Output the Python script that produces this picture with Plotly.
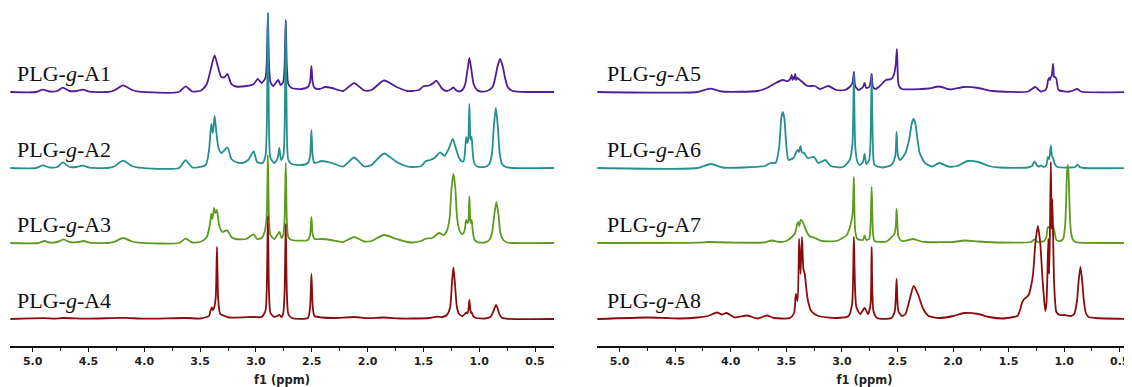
import plotly.graph_objects as go

# ---------------- data: (ppm, intensity) ----------------
A1 = [(5.20,0),(4.97,0),(4.91,2.3),(4.85,0.5),(4.78,1),(4.73,4.3),(4.67,1),(4.61,1),(4.55,2.3),(4.49,0.3),
      (4.33,0),(4.27,1.5),(4.19,6.6),(4.11,2),(4.05,0.3),(3.69,0),(3.63,5.6),(3.57,0.5),(3.49,1.5),(3.44,8),
      (3.40,25),(3.37,36.6),(3.34,25),(3.31,15),(3.28,14.9),(3.255,18),(3.22,8),(3.18,5.5),(3.085,6),(3.02,8),
      (2.983,13.2),(2.95,9),(2.915,14),(2.903,30),(2.893,78),(2.883,28),(2.87,10),(2.845,6),(2.80,12),(2.78,7),
      (2.755,10),(2.743,28),(2.733,72),(2.723,25),(2.71,8),(2.68,4),(2.59,3),(2.535,5),(2.515,10),(2.503,26),
      (2.491,9),(2.475,4),(2.43,3),(2.38,5),(2.32,4),(2.22,1),(2.12,8.9),(2.03,1.5),(1.965,2),(1.853,11.5),
      (1.74,5),(1.645,1),(1.60,1),(1.54,2),(1.50,5.7),(1.45,6.5),(1.41,9),(1.386,11.3),(1.36,8),(1.33,3),
      (1.29,1),(1.25,3),(1.231,4.7),(1.21,2),(1.18,0.5),(1.15,2),(1.125,8),(1.105,22),(1.088,34),(1.07,22),
      (1.05,8),(1.02,2),(0.99,0.5),(0.93,1),(0.88,5),(0.855,15),(0.835,26),(0.813,33),(0.79,26),(0.77,15),
      (0.745,5),(0.71,1.5),(0.66,0.3),(0.55,0),(0.33,0)]

A2 = [(5.20,0),(4.97,0),(4.91,2.6),(4.85,0.5),(4.78,1),(4.73,5.6),(4.67,1),(4.61,1),(4.55,2.3),(4.49,0.3),
      (4.33,0),(4.27,1.5),(4.19,7.3),(4.11,2),(4.05,0.3),(3.69,0),(3.63,7.9),(3.57,0.5),(3.45,3),(3.42,18),
      (3.40,44),(3.386,35),(3.37,52),(3.354,35),(3.335,20),(3.31,15),(3.255,20.5),(3.22,9),(3.18,6),(3.12,5),
      (3.07,8),(3.02,16.5),(2.99,6),(2.94,5),(2.915,12),(2.903,40),(2.893,155),(2.883,40),(2.87,10),(2.835,5),
      (2.805,10),(2.79,20),(2.775,8),(2.755,12),(2.743,40),(2.733,145),(2.723,35),(2.71,8),(2.68,4),(2.59,3),
      (2.535,5),(2.515,12),(2.503,38),(2.491,11),(2.475,5),(2.41,7),(2.32,5),(2.22,1.5),(2.12,10.5),(2.03,1.5),
      (1.965,3),(1.853,14.5),(1.74,6),(1.645,1.5),(1.60,1),(1.52,2),(1.48,6.7),(1.44,8),(1.40,10),(1.35,15.7),
      (1.31,12),(1.27,20),(1.237,29),(1.21,20),(1.18,10),(1.16,7),(1.14,6.7),(1.128,15),(1.117,31),(1.105,25),
      (1.097,30),(1.088,64),(1.079,30),(1.072,28),(1.067,31),(1.058,15),(1.045,5),(1.02,1.5),(0.95,1),(0.91,4),
      (0.885,15),(0.87,40),(0.851,60),(0.832,40),(0.817,15),(0.795,4),(0.76,1),(0.70,0),(0.33,0)]

A3 = [(5.20,0),(4.95,0),(4.893,2),(4.85,0.5),(4.78,1),(4.723,3.6),(4.67,1),(4.60,0.8),(4.541,2),(4.49,0.3),
      (4.33,0),(4.27,1.2),(4.189,5),(4.11,1.5),(4.05,0.3),(3.69,0),(3.629,4.3),(3.57,0.5),(3.49,1.5),(3.44,6),
      (3.41,20),(3.40,29),(3.39,24),(3.375,35),(3.365,30),(3.35,33),(3.33,18),(3.30,11),(3.27,12.5),(3.255,12.5),
      (3.22,6),(3.18,4),(3.09,4),(3.02,8.6),(2.99,4),(2.95,5),(2.92,12),(2.903,28),(2.893,88),(2.883,25),
      (2.87,8),(2.835,4),(2.79,11),(2.77,5),(2.755,8),(2.743,25),(2.733,80),(2.723,22),(2.71,6),(2.68,3),
      (2.535,3),(2.515,8),(2.503,26),(2.491,8),(2.475,4),(2.41,4),(2.33,3),(2.22,1),(2.119,6),(2.03,1.5),
      (1.965,2),(1.853,8),(1.74,4),(1.645,1),(1.60,0.5),(1.52,2),(1.48,4.3),(1.42,5),(1.36,10),(1.32,8),
      (1.29,12),(1.265,25),(1.248,55),(1.231,69),(1.214,55),(1.198,25),(1.175,12),(1.155,9),(1.14,10),(1.128,14),
      (1.117,23),(1.105,20),(1.097,22),(1.088,46.7),(1.079,22),(1.072,20),(1.067,23),(1.058,12),(1.045,4),(1.02,1),
      (0.95,0.5),(0.91,3),(0.885,10),(0.865,28),(0.846,41),(0.827,28),(0.81,10),(0.785,3),(0.75,0.5),(0.70,0),
      (0.33,0)]

A4 = [(5.20,0),(4.90,0.8),(4.80,0.3),(4.73,1),(4.50,0.3),(4.19,1.2),(4.00,0.3),(3.63,1),(3.50,0.5),(3.44,2),
      (3.42,3),(3.405,9),(3.395,11.5),(3.385,9),(3.375,11),(3.36,22),(3.349,72),(3.338,20),(3.32,5),(3.28,3),
      (3.24,1.5),(3.02,2),(2.95,2),(2.915,8),(2.903,30),(2.893,103),(2.883,28),(2.87,6),(2.835,2),(2.79,4),
      (2.77,2),(2.755,6),(2.743,28),(2.733,95),(2.723,26),(2.71,5),(2.68,1),(2.535,1),(2.515,12),(2.503,45),
      (2.491,12),(2.475,3),(2.41,1.5),(2.30,1),(2.119,2),(2.00,0.8),(1.853,1.5),(1.70,0.5),(1.60,0.5),(1.45,1),
      (1.38,2.3),(1.33,2),(1.29,4),(1.26,12),(1.245,35),(1.231,51.7),(1.217,35),(1.20,12),(1.18,5),(1.15,3),
      (1.128,5),(1.117,6.7),(1.105,5.5),(1.097,9),(1.088,19),(1.079,9),(1.072,6),(1.067,6.7),(1.055,3),(1.03,1),
      (0.95,0.5),(0.90,2),(0.875,7),(0.862,11),(0.849,14),(0.836,11),(0.82,5),(0.80,1.5),(0.76,0.3),(0.33,0)]

A5 = [(5.20,0),(4.30,0),(4.188,3.3),(4.076,0.5),(3.756,1),(3.676,4),(3.596,9),(3.532,12),(3.484,11),(3.46,14),
      (3.452,17),(3.444,12),(3.436,15),(3.428,13),(3.42,18),(3.41,12),(3.40,14),(3.388,13),(3.356,10),(3.308,6),
      (3.244,6),(3.196,3),(3.122,6),(3.052,2),(2.972,2),(2.93,5),(2.905,9),(2.892,20),(2.88,6),(2.85,2),
      (2.81,5),(2.796,9),(2.78,4),(2.755,5),(2.742,10),(2.732,18),(2.72,5),(2.70,3),(2.668,5),(2.604,12),
      (2.556,13),(2.53,18),(2.515,28),(2.505,43),(2.495,12),(2.486,6),(2.46,3),(2.284,3),(2.22,3.5),(2.124,5.5),
      (2.028,2.5),(1.90,5),(1.772,4),(1.644,1),(1.324,0.5),(1.26,5),(1.212,0.5),(1.17,2),(1.155,5),(1.145,12),
      (1.136,14),(1.128,12),(1.12,15),(1.112,16),(1.10,28),(1.09,15),(1.082,15),(1.07,13),(1.05,2),(0.95,0.5),
      (0.88,3),(0.85,0.5),(0.39,0)]

A6 = [(5.20,0),(4.30,0),(4.178,4),(4.076,0.5),(3.692,2),(3.644,5),(3.596,5),(3.565,20),(3.545,50),(3.532,56),
      (3.518,50),(3.498,20),(3.48,8),(3.436,10),(3.41,16),(3.398,18),(3.385,16),(3.372,22),(3.36,16),(3.34,15),
      (3.308,10),(3.25,11),(3.212,5),(3.148,8),(3.10,2),(2.988,1),(2.93,8),(2.905,24),(2.892,94),(2.88,22),
      (2.86,6),(2.84,3),(2.81,6),(2.796,14),(2.78,4),(2.755,8),(2.743,25),(2.732,92),(2.72,18),(2.706,3),
      (2.636,0.5),(2.556,3),(2.52,12),(2.508,36),(2.495,12),(2.476,8),(2.428,15),(2.396,28),(2.37,45),(2.355,49),
      (2.34,45),(2.30,15),(2.252,5),(2.188,1.5),(2.124,5),(2.044,1.5),(1.964,2),(1.868,7),(1.772,6),(1.676,2),
      (1.58,0.5),(1.33,0.5),(1.29,2),(1.266,6.7),(1.245,2.5),(1.225,1.5),(1.206,2.7),(1.185,1),(1.16,3),(1.146,11),
      (1.135,9),(1.12,22.7),(1.11,12),(1.10,10),(1.085,4),(1.06,1),(0.95,0.5),(0.90,1),(0.88,3.3),(0.86,1),
      (0.82,0),(0.39,0)]

A7 = [(5.20,0),(4.30,0.3),(4.204,1),(4.00,0.5),(3.70,0.5),(3.628,2.5),(3.56,1),(3.50,2),(3.45,6),(3.42,10),
      (3.405,18),(3.394,21),(3.383,17),(3.372,23),(3.356,22),(3.324,13),(3.292,7),(3.244,5),(3.18,2),(3.052,2),
      (2.956,8),(2.918,20),(2.903,30),(2.892,66),(2.88,12),(2.86,4),(2.81,3),(2.796,7.3),(2.78,3),(2.755,4),
      (2.743,16),(2.732,56),(2.72,10),(2.706,2),(2.60,1.5),(2.524,10),(2.508,34),(2.49,6),(2.46,2),(2.40,3),
      (2.358,4),(2.30,2),(2.25,1),(2.00,1),(1.90,2.5),(1.772,1.5),(1.58,0.5),(1.30,1),(1.266,3.7),(1.24,1),
      (1.18,2),(1.16,6),(1.146,16),(1.12,15),(1.10,17),(1.085,10),(1.07,3),(1.04,2),(1.01,4),(0.99,20),
      (0.982,45),(0.975,70),(0.968,78),(0.961,70),(0.954,45),(0.946,20),(0.935,8),(0.92,3),(0.90,1),(0.86,0.3),
      (0.39,0)]

A8 = [(5.20,0),(4.748,1.5),(4.588,1),(4.46,0.5),(4.30,1.5),(4.204,3),(4.124,6.5),(4.076,4.5),(4.038,6),(3.964,1.5),
      (3.852,3.5),(3.756,0.5),(3.676,3.5),(3.612,1),(3.468,1),(3.43,6),(3.414,25),(3.398,18),(3.385,80),(3.372,45),
      (3.359,82),(3.346,50),(3.334,45),(3.308,20),(3.276,8),(3.212,3),(3.052,1),(2.94,3),(2.908,15),(2.892,82),
      (2.87,12),(2.834,5),(2.796,11),(2.764,5),(2.742,15),(2.732,72),(2.716,8),(2.684,1),(2.556,1),(2.524,8),
      (2.508,40),(2.492,8),(2.46,3),(2.428,5),(2.396,17),(2.354,33),(2.316,25),(2.268,10),(2.22,3),(2.124,1),
      (1.996,3),(1.90,6),(1.772,5),(1.676,2),(1.548,0.5),(1.46,2),(1.42,3),(1.40,8),(1.38,16),(1.36,20),
      (1.34,21.7),(1.32,24),(1.30,32),(1.28,45),(1.26,75),(1.237,93),(1.215,75),(1.195,40),(1.18,18),(1.17,8),
      (1.16,15),(1.152,40),(1.143,80),(1.135,45),(1.127,100),(1.12,157),(1.113,90),(1.107,120),(1.10,85),(1.092,40),
      (1.08,15),(1.07,7),(1.04,4),(1.00,4),(0.94,3),(0.91,5),(0.885,18),(0.87,38),(0.854,52),(0.838,38),
      (0.823,18),(0.805,6),(0.78,2),(0.72,1),(0.39,0)]

LEFT_SPECTRA = [A1, A2, A3, A4]
RIGHT_SPECTRA = [A5, A6, A7, A8]
LEFT_NAMES = ["A1", "A2", "A3", "A4"]
RIGHT_NAMES = ["A5", "A6", "A7", "A8"]

TICK_VALS = [5.0, 4.5, 4.0, 3.5, 3.0, 2.5, 2.0, 1.5, 1.0, 0.5]
TICK_TEXT = ["5.0", "4.5", "4.0", "3.5", "3.0", "2.5", "2.0", "1.5", "1.0", "0.5"]
MINOR_VALS = [5.25, 4.75, 4.25, 3.75, 3.25, 2.75, 2.25, 1.75, 1.25, 0.75, 0.25]

# ---------------- styling ----------------
COLORS = ["#4f1e97", "#24908f", "#5c9b20", "#8a0d0d"]
OFFSETS = [254, 178, 103, 27]     # vertical stacking offsets (y units = px)
PAGE_MARGIN = 8                   # default body margin of the html page
W, H = 1132 - PAGE_MARGIN, 387 - PAGE_MARGIN
AXIS_ROW = 346 - PAGE_MARGIN      # pixel row of x axis line inside the figure


def px(x_page):
    return (x_page - PAGE_MARGIN) / W


fig = go.Figure()

for spectra, names, xa, ya, lx in [(LEFT_SPECTRA, LEFT_NAMES, "x", "y", 15),
                                   (RIGHT_SPECTRA, RIGHT_NAMES, "x2", "y2", 605)]:
    for spec, name, col, off in zip(spectra, names, COLORS, OFFSETS):
        fig.add_trace(go.Scatter(
            x=[p for p, _ in spec], y=[h + off for _, h in spec],
            mode="lines", line=dict(color=col, width=1.8, shape="spline", smoothing=0.6),
            xaxis=xa, yaxis=ya, hoverinfo="skip", showlegend=False))
        fig.add_annotation(
            text="PLG-<i>g</i>-" + name, xref="paper", yref=ya,
            x=px(lx), y=off + 19, xanchor="left", yanchor="middle",
            showarrow=False,
            font=dict(family="Liberation Serif", size=22, color="#111111"))

axis_common = dict(
    showgrid=False, zeroline=False, showline=True, linecolor="#111111", linewidth=1.5,
    ticks="outside", ticklen=4, tickwidth=1.2, tickcolor="#111111",
    tickmode="array", tickvals=TICK_VALS, ticktext=TICK_TEXT,
    tickfont=dict(family="DejaVu Sans", size=11, color="#222222", weight="bold"),
    minor=dict(tickmode="array", tickvals=MINOR_VALS, ticks="outside", ticklen=3,
               tickwidth=1, tickcolor="#111111"),
    title=dict(text="f1 (ppm)", standoff=9,
               font=dict(family="DejaVu Sans", size=11.5, color="#222222", weight="bold")),
    automargin=False,
)

ydom = [(H - AXIS_ROW) / H, 1.0]
fig.update_layout(
    width=W, height=H,
    margin=dict(l=0, r=0, t=0, b=0),
    paper_bgcolor="white", plot_bgcolor="white",
    showlegend=False,
    xaxis=dict(domain=[px(10), px(554)], range=[5.203, 0.33], anchor="y", **axis_common),
    xaxis2=dict(domain=[px(597), 1.0], range=[5.203, 0.39], anchor="y2", **axis_common),
    yaxis=dict(domain=ydom, range=[0, AXIS_ROW], visible=False, fixedrange=True),
    yaxis2=dict(domain=ydom, range=[0, AXIS_ROW], visible=False, anchor="x2", fixedrange=True),
)

fig.write_html("out.html")
